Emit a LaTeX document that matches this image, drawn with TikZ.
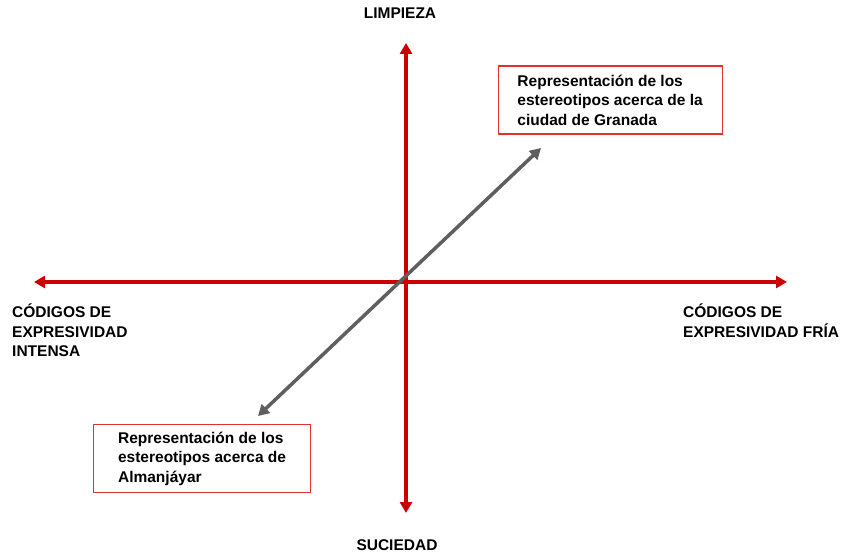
\documentclass[tikz,border=0pt]{standalone}
\usepackage{fontspec}
\setmainfont{Liberation Sans}
\usetikzlibrary{arrows.meta,positioning}
\definecolor{ejerojo}{HTML}{CC0000}
\definecolor{bordecaja}{HTML}{E03030}
\definecolor{flechagris}{HTML}{5F5F5F}

\begin{document}
\begin{tikzpicture}[x=1pt,y=-1pt,>={Triangle[length=11pt,width=12pt]},
    eje/.style={draw=ejerojo,line width=4pt,<->},
    diagonal/.style={draw=flechagris,line width=3.5pt,<->},
    caja/.style={draw=bordecaja,line width=1.2pt,align=left,inner xsep=0pt,
      minimum height=68pt,anchor=north west,font=\fontsize{15.5}{19.5}\selectfont\bfseries},
    etiqueta/.style={align=left,inner sep=0pt,font=\fontsize{15.5}{19.5}\selectfont\bfseries}]
    \useasboundingbox (0,0) rectangle (843,553);

    \coordinate (arriba) at (406,43);
    \coordinate (abajo) at (406,513);
    \coordinate (izquierda) at (34,282);
    \coordinate (derecha) at (787,282);
    \coordinate (granada) at (541,148);
    \coordinate (almanjayar) at (258,416);

    \draw[eje] (izquierda) -- (derecha);
    \draw[eje] (abajo) -- (arriba);
    \draw[diagonal] (almanjayar) -- (granada);

    \node[caja,minimum width=217pt] (cajaalmanjayar) at (93,424) {Representación de los\\estereotipos acerca de\\Almanjáyar};
    \node[caja,minimum width=224pt] (cajagranada) at (497.5,65.5) {Representación de los\\estereotipos acerca de la\\ciudad de Granada};

    \node[etiqueta,anchor=base] (limpieza) at (400,19) {LIMPIEZA};
    \node[etiqueta,anchor=base] (suciedad) at (397,550) {SUCIEDAD};
    \node[etiqueta,anchor=north west] (intensa) at (12,304) {CÓDIGOS DE\\EXPRESIVIDAD\\INTENSA};
    \node[etiqueta,anchor=north west] (fria) at (683,304) {CÓDIGOS DE\\EXPRESIVIDAD FRÍA};
\end{tikzpicture}
\end{document}
